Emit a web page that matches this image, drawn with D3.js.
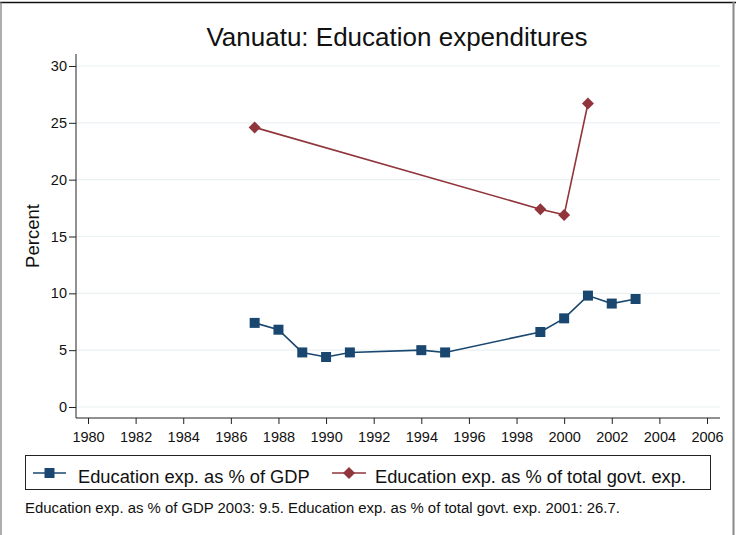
<!DOCTYPE html>
<html>
<head>
<meta charset="utf-8">
<script src="https://cdn.jsdelivr.net/npm/d3@7"></script>
<style>
  body { margin: 0; background: #fff; }
  svg { display: block; font-family: "Liberation Sans", Arial, sans-serif; }
</style>
</head>
<body>
<svg id="chart" width="736" height="535"></svg>
<script>
const gdpYears = [1987, 1988, 1989, 1990, 1991, 1994, 1995, 1999, 2000, 2001, 2002, 2003];
const gdpValues = [7.4, 6.8, 4.8, 4.4, 4.8, 5.0, 4.8, 6.6, 7.8, 9.8, 9.1, 9.5];
const govYears = [1987, 1999, 2000, 2001];
const govValues = [24.6, 17.4, 16.9, 26.7];
const xTicks = [1980, 1982, 1984, 1986, 1988, 1990, 1992, 1994, 1996, 1998, 2000, 2002, 2004, 2006];
const yTicks = [0, 5, 10, 15, 20, 25, 30];
const seriesNames = ["Education exp. as % of GDP", "Education exp. as % of total govt. exp."];
const titleText = "Vanuatu: Education expenditures";
const yLabel = "Percent";
const noteText = "Education exp. as % of GDP 2003: 9.5. Education exp. as % of total govt. exp. 2001: 26.7.";

const blue = "#1a476f", red = "#90353b";
const FONT = "'Liberation Sans', Arial, sans-serif";
const svg = d3.select("#chart");

// outer frame
svg.append("line").attr("x1", 0).attr("x2", 736).attr("y1", 2.5).attr("y2", 2.5).attr("stroke", "#111").attr("stroke-width", 1.5);
svg.append("line").attr("x1", 1).attr("x2", 1).attr("y1", 2).attr("y2", 535).attr("stroke", "#777").attr("stroke-width", 1.2);
svg.append("line").attr("x1", 733.5).attr("x2", 733.5).attr("y1", 2).attr("y2", 535).attr("stroke", "#888").attr("stroke-width", 2);

const x = d3.scaleLinear().domain([1980, 2006]).range([88, 707]);
const y = d3.scaleLinear().domain([0, 30]).range([407, 66]);
const plotL = 76, plotR = 720, axisY = 418;

// gridlines
svg.append("g").selectAll("line").data(yTicks).join("line")
  .attr("x1", plotL).attr("x2", plotR)
  .attr("y1", d => y(d)).attr("y2", d => y(d))
  .attr("stroke", "#eaf2f3").attr("stroke-width", 1.2);

// y axis
const yAxis = svg.append("g").attr("transform", `translate(${plotL},0)`)
  .call(d3.axisLeft(y).tickValues(yTicks).tickSize(7).tickPadding(2));
yAxis.attr("font-size", null).attr("font-family", null);
yAxis.select(".domain").attr("d", `M0,54V${axisY}`).attr("stroke", "#222");
yAxis.selectAll("text").style("font-size", "14.5px").style("font-family", FONT).attr("fill", "#111");
yAxis.selectAll(".tick line").attr("stroke", "#222");

// x axis
const xAxis = svg.append("g").attr("transform", `translate(0,${axisY})`)
  .call(d3.axisBottom(x).tickValues(xTicks).tickFormat(d3.format("d")).tickSize(6).tickPadding(8));
xAxis.attr("font-size", null).attr("font-family", null);
xAxis.select(".domain").attr("d", `M${plotL},0H${plotR}`).attr("stroke", "#222");
xAxis.selectAll("text").style("font-size", "14.5px").style("font-family", FONT).attr("fill", "#111");
xAxis.selectAll(".tick line").attr("stroke", "#222");

// title
svg.append("text").attr("x", 397).attr("y", 46).attr("text-anchor", "middle")
  .style("font-size", "26px").attr("fill", "#111").text(titleText);
// y label
svg.append("text").attr("transform", "translate(39,236) rotate(-90)").attr("text-anchor", "middle")
  .style("font-size", "18.5px").attr("fill", "#111").text(yLabel);

const gdp = gdpYears.map((d, i) => [d, gdpValues[i]]);
const gov = govYears.map((d, i) => [d, govValues[i]]);
const line = d3.line().x(d => x(d[0])).y(d => y(d[1]));

svg.append("path").datum(gov).attr("d", line).attr("fill", "none").attr("stroke", red).attr("stroke-width", 1.6);
svg.append("path").datum(gdp).attr("d", line).attr("fill", "none").attr("stroke", blue).attr("stroke-width", 1.6);

const sq = d3.symbol().type(d3.symbolSquare).size(100);
const dia = d3.symbol().type(d3.symbolSquare).size(72);

svg.append("g").selectAll("path").data(gov).join("path")
  .attr("d", dia).attr("fill", red)
  .attr("transform", d => `translate(${x(d[0])},${y(d[1])}) rotate(45)`);
svg.append("g").selectAll("path").data(gdp).join("path")
  .attr("transform", d => `translate(${x(d[0])},${y(d[1])})`)
  .attr("d", sq).attr("fill", blue);

// legend
svg.append("rect").attr("x", 25.5).attr("y", 455.5).attr("width", 685).attr("height", 34)
  .attr("fill", "#fff").attr("stroke", "#222").attr("stroke-width", 1);
const legY = 473;
const legItems = [
  {x0: 33, x1: 66, tx: 78, color: blue, sym: "sq", name: seriesNames[0]},
  {x0: 332, x1: 366, tx: 375, color: red, sym: "dia", name: seriesNames[1]}
];
legItems.forEach(it => {
  svg.append("line").attr("x1", it.x0).attr("x2", it.x1).attr("y1", legY).attr("y2", legY)
    .attr("stroke", it.color).attr("stroke-width", 1.6);
  const cx = (it.x0 + it.x1) / 2;
  if (it.sym === "sq") {
    svg.append("path").attr("d", sq).attr("transform", `translate(${cx},${legY})`).attr("fill", it.color);
  } else {
    svg.append("path").attr("d", dia)
      .attr("transform", `translate(${cx},${legY}) rotate(45)`).attr("fill", it.color);
  }
  svg.append("text").attr("x", it.tx).attr("y", 482.5).style("font-size", "18.3px").attr("fill", "#111").text(it.name);
});

// note
svg.append("text").attr("x", 25).attr("y", 512.5).style("font-size", "14.9px").attr("fill", "#111").text(noteText);
</script>
</body>
</html>
